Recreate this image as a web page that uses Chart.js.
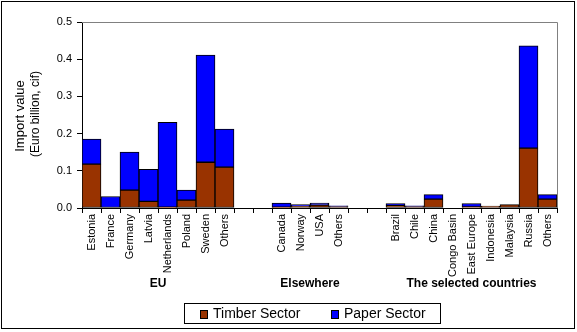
<!DOCTYPE html>
<html><head><meta charset="utf-8">
<script src="https://cdn.jsdelivr.net/npm/chart.js@4/dist/chart.umd.min.js"></script>
<style>html,body{margin:0;padding:0;background:#fff;}canvas{display:block;}</style>
</head><body>
<canvas id="c" width="577" height="332"></canvas>
<script>
const categories = ['Estonia','France','Germany','Latvia','Netherlands','Poland','Sweden','Others','','','Canada','Norway','USA','Others','','','Brazil','Chile','China','Congo Basin','East Europe','Indonesia','Malaysia','Russia','Others'];
const timberSector = [0.118,null,0.048,0.018,0.002,0.021,0.123,0.110,null,null,0.002,0.005,0.008,0.004,null,null,0.006,0.004,0.024,null,0.003,0.005,0.009,0.161,0.024];
const paperSector  = [0.067,0.031,0.102,0.086,0.228,0.027,0.288,0.102,null,null,0.011,0.004,0.005,0.002,null,null,0.006,0.002,0.012,null,0.009,null,null,0.275,0.012];
const groupNames = ['EU','Elsewhere','The selected countries'];
const groupStarts = [0,10,16];
const groupEnds = [7,13,24];
const yTicks = [0,0.1,0.2,0.3,0.4,0.5];
const yTitle = ['Import value','(Euro billion, cif)'];

const FONT = "'Liberation Sans', Arial, sans-serif";

const decor = {
  id:'decor',
  afterDraw(chart){
    const ctx = chart.ctx, a = chart.chartArea, xs = chart.scales.x;
    ctx.save();
    // plot border top/right
    ctx.strokeStyle = '#808080'; ctx.lineWidth = 1;
    ctx.beginPath();
    ctx.moveTo(a.left, Math.round(a.top)+0.5); ctx.lineTo(Math.round(a.right)+0.5, Math.round(a.top)+0.5);
    ctx.lineTo(Math.round(a.right)+0.5, a.bottom);
    ctx.stroke();
    // group labels
    ctx.fillStyle = '#000'; ctx.font = 'bold 12px ' + FONT;
    ctx.textAlign = 'center'; ctx.textBaseline = 'middle';
    groupNames.forEach((g,i)=>{
      const x = (xs.getPixelForValue(groupStarts[i]) + xs.getPixelForValue(groupEnds[i]))/2;
      ctx.fillText(g, x, 284);
    });
    // y title
    ctx.save();
    ctx.translate(20, 116); ctx.rotate(-Math.PI/2);
    ctx.font = '13px ' + FONT; ctx.fillText(yTitle[0], 0, 0);
    ctx.restore();
    ctx.save();
    ctx.translate(36, 114); ctx.rotate(-Math.PI/2);
    ctx.font = '12px ' + FONT; ctx.fillText(yTitle[1], 0, 0);
    ctx.restore();
    // legend
    ctx.strokeStyle = '#000';
    ctx.strokeRect(184.5, 303.5, 256, 20);
    ctx.font = '14px ' + FONT; ctx.textAlign = 'left'; ctx.textBaseline = 'middle';
    const items = chart.data.datasets;
    const xPos = [200, 331];
    items.forEach((d,i)=>{
      ctx.fillStyle = d.backgroundColor;
      ctx.fillRect(xPos[i], 310, 7, 8);
      ctx.strokeRect(xPos[i]+0.5, 310.5, 7, 8);
      ctx.fillStyle = '#000';
      ctx.fillText(d.label, xPos[i]+13, 314.5);
    });
    // outer border
    ctx.strokeRect(1.5, 1.5, 573, 327);
    ctx.restore();
  }
};

new Chart(document.getElementById('c'), {
  type:'bar',
  data:{
    labels: categories,
    datasets:[
      {label:'Timber Sector', data: timberSector, backgroundColor:'#993300', borderColor:'#000', borderWidth:1, borderSkipped:false},
      {label:'Paper Sector', data: paperSector, backgroundColor:'#0000FF', borderColor:'#000', borderWidth:1, borderSkipped:false}
    ]
  },
  options:{
    responsive:false, animation:false, devicePixelRatio:1,
    layout:{padding:{left:40, right:20, top:22, bottom:54}},
    plugins:{legend:{display:false}, tooltip:{enabled:false}},
    datasets:{bar:{categoryPercentage:1, barPercentage:1}},
    scales:{
      x:{
        stacked:true, offset:true,
        grid:{offset:true, drawOnChartArea:false, drawTicks:true, tickLength:5, color:'#000'},
        border:{color:'#000', width:1},
        ticks:{autoSkip:false, minRotation:90, maxRotation:90, padding:1, color:'#000', font:{family:FONT, size:11}},
        afterFit(s){ s.height = 70; }
      },
      y:{
        stacked:true, min:0, max:0.5,
        afterBuildTicks(s){ s.ticks = yTicks.map(v=>({value:v})); },
        grid:{drawOnChartArea:false, drawTicks:true, tickLength:5, color:'#000'},
        border:{color:'#000', width:1},
        ticks:{padding:5, color:'#000', font:{family:FONT, size:11}, callback:v=>Number(v).toFixed(1)},
        afterFit(s){ s.width = 42; }
      }
    }
  },
  plugins:[decor]
});
</script>
</body></html>
